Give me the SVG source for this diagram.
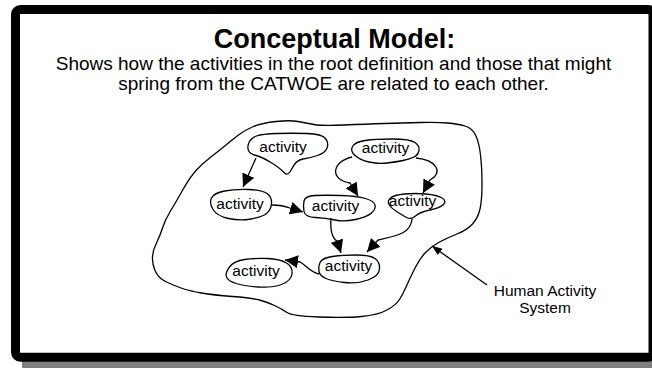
<svg xmlns="http://www.w3.org/2000/svg" width="652" height="368" viewBox="0 0 652 368">
  <defs>
    <style>
      .title { font-family: "Liberation Sans", Arial, sans-serif; font-size: 27px; font-weight: bold; fill: #000; text-anchor: middle; }
      .sub { font-family: "Liberation Sans", Arial, sans-serif; font-size: 19px; fill: #000; text-anchor: middle; }
      .blob { fill: #fff; stroke: #000; stroke-width: 1.3; stroke-linejoin: round; }
      .hasys { fill: none; stroke: #000; stroke-width: 1.3; stroke-linejoin: round; }
      .lbl { font-family: "Liberation Sans", Arial, sans-serif; font-size: 15.5px; fill: #000; text-anchor: middle; }
      .note { font-family: "Liberation Sans", Arial, sans-serif; font-size: 15.5px; fill: #000; text-anchor: middle; }
      .conn { fill: none; stroke: #000; stroke-width: 1.3; }
    </style>
    <marker id="arrow" markerUnits="userSpaceOnUse" markerWidth="13" markerHeight="13" refX="13" refY="6.5" orient="auto">
      <path d="M0,0 L13,6.5 L0,13 Z" fill="#000"/>
    </marker>
    <marker id="arrowSmall" markerUnits="userSpaceOnUse" markerWidth="10" markerHeight="8" refX="10" refY="4" orient="auto">
      <path d="M0,0 L10,4 L0,8 Z" fill="#000"/>
    </marker>
  </defs>

  <!-- slide frame with drop shadow -->
  <rect x="22" y="18" width="640" height="352" fill="#808080"/>
  <rect x="15.5" y="9.5" width="637.5" height="347.7" rx="5" fill="#fff" stroke="#000" stroke-width="9"/>

  <!-- heading -->
  <text class="title" x="334.5" y="48">Conceptual Model:</text>
  <text class="sub" x="333.5" y="69.5">Shows how the activities in the root definition and those that might</text>
  <text class="sub" x="333.5" y="90">spring from the CATWOE are related to each other.</text>

  <!-- system boundary -->
  <g id="human-activity-system">
    <path class="hasys" d="M253.5,126.5 Q262,123 276,121.5 Q290,120 298,121.5 Q306,123 314,124.5 Q322,126 344,125 Q366,124 384.5,123.5 Q403,123 420,122.5 Q437,122 447.5,123 Q458,124 465,126 Q472,128 475.5,135 Q479,142 480.5,155 Q482,168 482,184 Q482,200 480,209 Q478,218 472.5,224 Q467,230 457,234 Q447,238 439.5,242 Q432,246 426,252 Q420,258 415,268 Q410,278 406.5,286 Q403,294 399.5,299.5 Q396,305 387,310 Q378,315 361.5,316.5 Q345,318 318.5,317 Q292,316 287,312.5 Q282,309 274.5,305.5 Q267,302 259.5,300 Q252,298 232.5,296.5 Q213,295 201.5,293 Q190,291 182.5,288.5 Q175,286 166.5,282 Q158,278 155,270.5 Q152,263 152.5,256.5 Q153,250 156.5,243 Q160,236 162.5,228 Q165,220 170.5,211 Q176,202 183,189.5 Q190,177 196.5,170 Q203,163 211.5,156.5 Q220,150 226,145 Q232,140 238.5,135 Q245,130 253.5,126.5 Z"/>
    <text class="note" x="545" y="296">Human Activity</text>
    <text class="note" x="545" y="313">System</text>
  </g>

  <!-- activities -->
  <g id="activity-a">
    <path class="blob" d="M249,142.5 Q251,138 256.5,136 Q262,134 277,133.5 Q292,133 307,133.5 Q322,134 325.5,138.5 Q329,143 327,148 Q325,153 317.5,155.5 Q310,158 303,159 Q296,160 292,168.5 Q288,177 284,172.5 Q280,168 271,162.5 Q262,157 256,155.5 Q250,154 248.5,150.5 Q247,147 249,142.5 Z"/>
    <text class="lbl" x="283" y="152">activity</text>
  </g>
  <g id="activity-b">
    <path class="blob" d="M211.5,198 Q214,193 224.5,191 Q235,189 248.5,189.5 Q262,190 267,193.5 Q272,197 271.5,203.5 Q271,210 266.5,213.5 Q262,217 251,219 Q240,221 228.5,218.5 Q217,216 213,209.5 Q209,203 211.5,198 Z"/>
    <text class="lbl" x="240" y="209">activity</text>
  </g>
  <g id="activity-c">
    <path class="blob" d="M304,201 Q305,196 315,195.5 Q325,195 341,195.5 Q357,196 365.5,198.5 Q374,201 375,205 Q376,209 371.5,213 Q367,217 355.5,219.5 Q344,222 335,220 Q326,218 315.5,217.5 Q305,217 304,211.5 Q303,206 304,201 Z"/>
    <text class="lbl" x="335.5" y="211">activity</text>
  </g>
  <g id="activity-d">
    <path class="blob" d="M352.5,146.5 Q355,142 365,140.5 Q375,139 392.5,139 Q410,139 415,142.5 Q420,146 419,150.5 Q418,155 414,157 Q410,159 403,160.5 Q396,162 387,163 Q378,164 369,162 Q360,160 355,155.5 Q350,151 352.5,146.5 Z"/>
    <text class="lbl" x="385.5" y="153">activity</text>
  </g>
  <g id="activity-e">
    <path class="blob" d="M390.5,198 Q394,195 404.5,194 Q415,193 426,194 Q437,195 442,198 Q447,201 443.5,204.5 Q440,208 430,210 Q420,212 415.5,216 Q411,220 406.5,217.5 Q402,215 396.5,211.5 Q391,208 389,204.5 Q387,201 390.5,198 Z"/>
    <text class="lbl" x="412.5" y="206">activity</text>
  </g>
  <g id="activity-f">
    <path class="blob" d="M320,262.5 Q322,258 332.5,256.5 Q343,255 356.5,255 Q370,255 375,258.5 Q380,262 379.5,269 Q379,276 368,280 Q357,284 344.5,282.5 Q332,281 326,278.5 Q320,276 319,271.5 Q318,267 320,262.5 Z"/>
    <text class="lbl" x="348.5" y="271">activity</text>
  </g>
  <g id="activity-g">
    <path class="blob" d="M229.5,267 Q234,261 244.5,259.5 Q255,258 267.5,258.5 Q280,259 286.5,263 Q293,267 292,274 Q291,281 281.5,284.5 Q272,288 258,287 Q244,286 236,283.5 Q228,281 226.5,277 Q225,273 229.5,267 Z"/>
    <text class="lbl" x="256" y="276">activity</text>
  </g>

  <!-- connectors -->
  <g id="connectors">
    <path class="conn" d="M256,158 L243,187" marker-end="url(#arrow)"/>
    <path class="conn" d="M272,205 Q282,205 290,208 L303,212" marker-end="url(#arrow)"/>
    <path class="conn" d="M352,157 C331,162 330,180 350,183 L358,196" marker-end="url(#arrow)"/>
    <path class="conn" d="M416,158 C436,160 444,172 430,180 L423,193" marker-end="url(#arrow)"/>
    <path class="conn" d="M331,218 C330,232 332,238 337,241 L341,253" marker-end="url(#arrow)"/>
    <path class="conn" d="M412,219 C411,234 395,236 378,240 L367,252" marker-end="url(#arrow)"/>
    <path class="conn" d="M319,274 C310,272 306,265 300,262 L285,260" marker-end="url(#arrow)"/>
    <path class="conn" d="M487,285 L432,246" marker-end="url(#arrowSmall)"/>
  </g>
</svg>
